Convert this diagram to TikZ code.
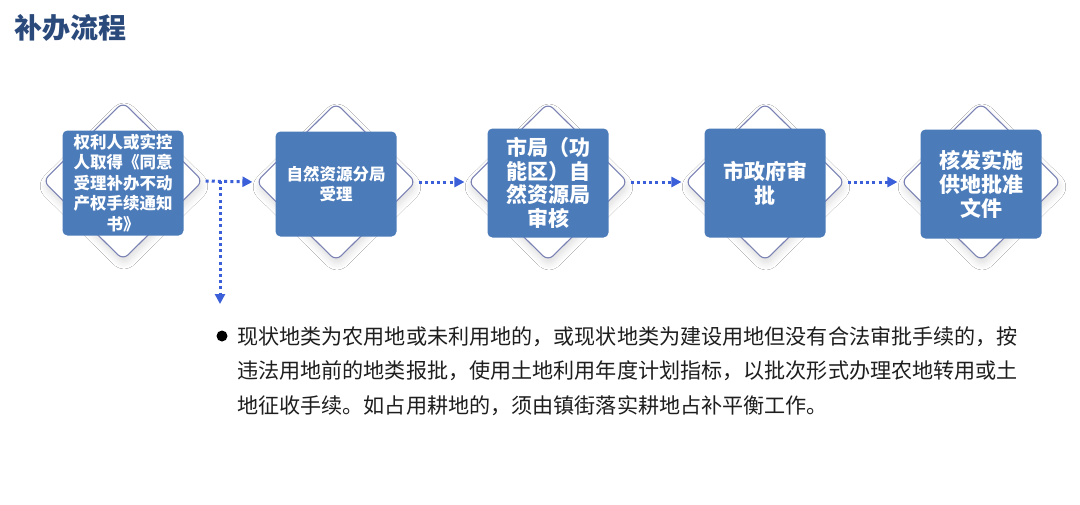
\documentclass[tikz,border=0pt]{standalone}
\usepackage{fontspec}
\newfontfamily\cjk{Noto Sans CJK SC}
\usetikzlibrary{shapes.geometric,arrows.meta,shadows.blur}
\definecolor{boxblue}{HTML}{4C7BB9}
\definecolor{diaborder}{HTML}{7A82B4}
\definecolor{arrblue}{HTML}{3A5FD8}
\definecolor{titleblue}{HTML}{2B4A7C}
\definecolor{bodytext}{HTML}{1E1E1E}
\tikzset{
  dia/.style={diamond, draw=diaborder, fill=white, line width=1.1pt,
    minimum width=160pt, minimum height=158pt, inner sep=0pt, rounded corners=7pt,
    blur shadow={shadow blur steps=8, shadow xshift=1pt, shadow yshift=-5pt, shadow opacity=14, shadow blur radius=7pt}},
  bx/.style={rectangle, fill=boxblue, rounded corners=5pt, minimum width=121pt,
    minimum height=105pt, inner sep=0pt, text=white, align=center},
  arr/.style={draw=arrblue, line width=3pt, dash pattern=on 3pt off 3.2pt,
    -{Triangle[length=10pt,width=10pt,fill=arrblue]}},
  body/.style={anchor=base west, inner sep=0pt, text=bodytext, font=\cjk\fontsize{21.1}{26}\selectfont}
}
\begin{document}
\begin{tikzpicture}[x=1pt,y=-1pt]
\useasboundingbox[fill=white] (0,0) rectangle (1080,504);
\node[anchor=west, inner sep=0pt, text=titleblue, font=\cjk\bfseries\fontsize{28}{30}\selectfont] (title) at (14,28) {补办流程};

\node[dia] (d1) at (123,181) {};
\node[dia] (d2) at (336,182) {};
\node[dia] (d3) at (548,182) {};
\node[dia] (d4) at (765,182) {};
\node[dia] (d5) at (981,182) {};

\node[bx, font=\cjk\bfseries\fontsize{16.5}{20.5}\selectfont] (b1) at (123,183) {权利人或实控\\人取得《同意\\受理补办不动\\产权手续通知\\书》};
\node[bx, font=\cjk\bfseries\fontsize{16.5}{20.5}\selectfont] (b2) at (336,184) {自然资源分局\\受理};
\node[bx, font=\cjk\bfseries\fontsize{21}{23.5}\selectfont, minimum height=109pt] (b3) at (548,183) {市局（功\\能区）自\\然资源局\\审核};
\node[bx, font=\cjk\bfseries\fontsize{21}{24}\selectfont, minimum height=109pt] (b4) at (765,183) {市政府审\\批};
\node[bx, font=\cjk\bfseries\fontsize{21}{24}\selectfont, minimum height=109pt] (b5) at (981,184) {核发实施\\供地批准\\文件};

\draw[arr, shorten <=2pt, shorten >=3pt] (d1.east) -- (d2.west);
\draw[arr, shorten <=2pt, shorten >=3pt] (d2.east) -- (d3.west);
\draw[arr, shorten <=2pt, shorten >=3pt] (d3.east) -- (d4.west);
\draw[arr, shorten <=2pt, shorten >=3pt] (d4.east) -- (d5.west);
\coordinate (j) at (220,181);
\coordinate (e) at (220,304);
\draw[arr] (j) -- (e);

\node[circle, fill=black, minimum size=11pt, inner sep=0pt] (bul) at (222,336) {};
\node[body] (t1) at (237,344) {现状地类为农用地或未利用地的，或现状地类为建设用地但没有合法审批手续的，按};
\node[body] (t2) at (237,378.5) {违法用地前的地类报批，使用土地利用年度计划指标，以批次形式办理农地转用或土};
\node[body] (t3) at (237,413) {地征收手续。如占用耕地的，须由镇街落实耕地占补平衡工作。};
\end{tikzpicture}
\end{document}
